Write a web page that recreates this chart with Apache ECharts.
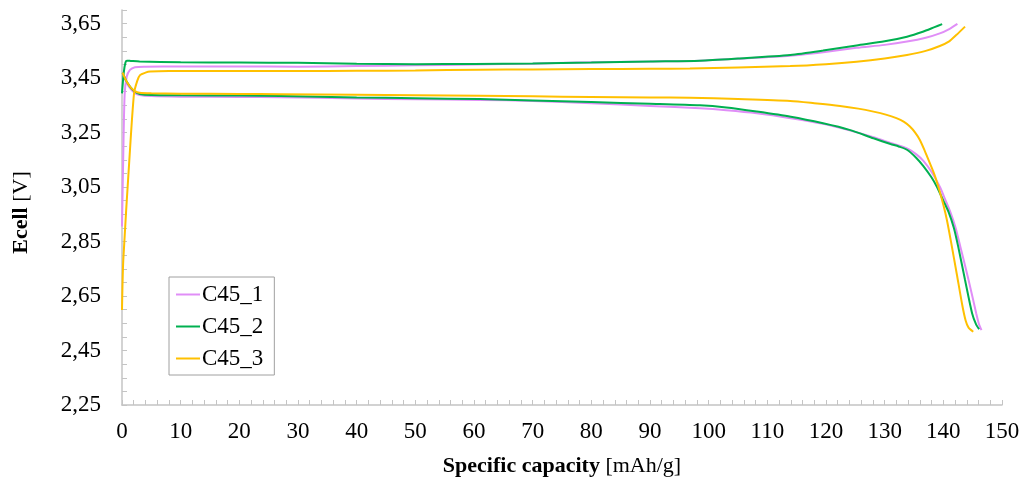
<!DOCTYPE html>
<html>
<head>
<meta charset="utf-8">
<title>Ecell vs specific capacity</title>
<script src="https://cdn.jsdelivr.net/npm/echarts@6/dist/echarts.min.js"></script>
<style>
  html, body { margin: 0; padding: 0; background: #ffffff; }
  #chart { width: 1035px; height: 484px; }
</style>
</head>
<body>
<div id="chart"></div>
<script>
// Cell names shown in the legend
const cellNames = ['C45_1', 'C45_2', 'C45_3'];

// Axis tick labels
const xLabelValues = [0, 10, 20, 30, 40, 50, 60, 70, 80, 90, 100, 110, 120, 130, 140, 150];
const xTickLabels = ['0', '10', '20', '30', '40', '50', '60', '70', '80', '90', '100', '110', '120', '130', '140', '150'];
const yLabelValues = [2.25, 2.45, 2.65, 2.85, 3.05, 3.25, 3.45, 3.65];
const yTickLabels = ['2,25', '2,45', '2,65', '2,85', '3,05', '3,25', '3,45', '3,65'];

// [specific capacity mAh/g, Ecell V] — charge branch, C45_1
const c45_1Charge = [
  [0, 2.905], [0.2, 3.15], [0.45, 3.39], [0.8, 3.455], [1.36, 3.480], [2.2, 3.490],
  [4, 3.492], [10, 3.493], [20, 3.493], [30, 3.492], [40, 3.494], [50, 3.497],
  [60, 3.500], [70, 3.503], [78, 3.507], [90, 3.511], [98.5, 3.514], [105, 3.521],
  [113.9, 3.532], [119.5, 3.545], [125.2, 3.561], [130, 3.572], [133.8, 3.584],
  [137, 3.598], [139.4, 3.614], [141, 3.630], [142.4, 3.649]
];
// discharge branch, C45_1
const c45_1Discharge = [
  [0.1, 3.47], [0.5, 3.445], [1, 3.425], [1.5, 3.41], [2.2, 3.395], [3, 3.388],
  [5, 3.384], [10, 3.382], [20, 3.381], [27, 3.380], [40, 3.375], [50, 3.372],
  [61, 3.370], [70, 3.366], [80, 3.358], [90, 3.348], [98.5, 3.339], [103, 3.332],
  [108.2, 3.321], [114, 3.303], [119.5, 3.282], [124, 3.258], [128.1, 3.233],
  [131, 3.212], [133.8, 3.192], [135.4, 3.170], [136.6, 3.146], [138, 3.105],
  [139.4, 3.051], [140.4, 3.000], [141.2, 2.958], [142.1, 2.900], [142.9, 2.831],
  [144.3, 2.709], [145.6, 2.587], [146.1, 2.545], [146.5, 2.525]
];

// charge branch, C45_2
const c45_2Charge = [
  [0, 3.394], [0.3, 3.47], [0.6, 3.508], [0.85, 3.514], [1.5, 3.513], [3, 3.511],
  [10, 3.508], [20, 3.507], [30, 3.506], [40, 3.503], [50, 3.501], [60, 3.502],
  [70, 3.504], [80, 3.507], [90, 3.511], [98.5, 3.514], [105, 3.522], [113.9, 3.535],
  [119.5, 3.551], [125.2, 3.570], [130, 3.585], [133.8, 3.602], [136.5, 3.620],
  [138.5, 3.637], [139.8, 3.648]
];
// discharge branch, C45_2
const c45_2Discharge = [
  [0.1, 3.47], [0.5, 3.45], [1, 3.43], [1.5, 3.415], [2.2, 3.400], [3, 3.392],
  [5, 3.388], [10, 3.387], [20, 3.386], [27, 3.384], [40, 3.379], [50, 3.376],
  [61, 3.373], [70, 3.368], [80, 3.362], [90, 3.356], [98.5, 3.350], [103, 3.342],
  [108.2, 3.327], [114, 3.308], [119.5, 3.284], [124, 3.260], [128.1, 3.229],
  [131, 3.208], [132.4, 3.199], [133.8, 3.187], [135.4, 3.157], [136.6, 3.127],
  [138, 3.085], [138.9, 3.051], [140.0, 3.000], [140.9, 2.958], [141.8, 2.900],
  [142.5, 2.835], [143.7, 2.709], [144.9, 2.587], [145.6, 2.545], [146.1, 2.528]
];

// charge branch, C45_3
const c45_3Charge = [
  [0, 2.599], [0.22, 2.782], [1.25, 3.149], [2.05, 3.394], [2.6, 3.44], [3.07, 3.461],
  [4, 3.470], [4.8, 3.474], [8, 3.476], [20, 3.476], [30, 3.476], [40, 3.477],
  [50, 3.478], [61, 3.481], [70, 3.482], [80, 3.483], [90, 3.484], [96.8, 3.485],
  [105, 3.489], [113.9, 3.494], [120, 3.501], [125.2, 3.510], [130, 3.522],
  [133.8, 3.535], [137, 3.550], [139.4, 3.568], [141, 3.585], [142.2, 3.608],
  [143.7, 3.639]
];
// discharge branch, C45_3
const c45_3Discharge = [
  [0.1, 3.47], [0.5, 3.45], [1, 3.43], [1.5, 3.415], [2.2, 3.402], [3, 3.396],
  [5, 3.394], [10, 3.393], [20, 3.392], [27, 3.391], [40, 3.389], [50, 3.387],
  [61, 3.385], [70, 3.383], [80, 3.381], [90, 3.379], [96.8, 3.378], [105, 3.373],
  [113.9, 3.366], [118, 3.358], [122.4, 3.348], [125.5, 3.338], [128.1, 3.327],
  [130.2, 3.316], [132.0, 3.303], [133.3, 3.289], [134.3, 3.272], [135.2, 3.250],
  [136.0, 3.223], [136.8, 3.185], [137.7, 3.138], [138.5, 3.095], [139.3, 3.040],
  [140.0, 2.985], [140.6, 2.930], [141.3, 2.850], [142.3, 2.730], [143.2, 2.620],
  [143.8, 2.560], [144.3, 2.534], [145.1, 2.519]
];

const chargeBranches = [c45_1Charge, c45_2Charge, c45_3Charge];
const dischargeBranches = [c45_1Discharge, c45_2Discharge, c45_3Discharge];
const lineColors = ['#e08ef7', '#00b050', '#ffc000'];

const serifFont = "'Liberation Serif', 'Times New Roman', 'DejaVu Serif', serif";

function pickLabel(values, labels) {
  return function (v) {
    const i = values.findIndex(t => Math.abs(t - v) < 1e-6);
    return i >= 0 ? labels[i] : '';
  };
}

// Each cell is one series: charge branch, a gap, then the discharge branch
const series = cellNames.map((name, i) => ({
  name: name,
  type: 'line',
  data: chargeBranches[i].concat([[null, null]], dischargeBranches[i]),
  showSymbol: false,
  symbol: 'none',
  connectNulls: false,
  smooth: 0.25,
  lineStyle: { color: lineColors[i], width: 2 },
  itemStyle: { color: lineColors[i] },
  emphasis: { disabled: true },
  animation: false
}));

const chart = echarts.init(document.getElementById('chart'), null, { renderer: 'canvas' });

chart.setOption({
  backgroundColor: '#ffffff',
  animation: false,
  grid: {
    left: 122, right: 33, top: 10, bottom: 79,
    containLabel: false,
    outerBoundsMode: 'none'
  },
  legend: {
    data: cellNames,
    orient: 'vertical',
    left: 169,
    top: 277,
    padding: [6, 11, 5, 7],
    itemGap: 9,
    itemWidth: 24,
    itemHeight: 2,
    icon: 'rect',
    backgroundColor: '#ffffff',
    borderColor: '#a0a0a0',
    borderWidth: 1,
    borderRadius: 0,
    selectedMode: false,
    textStyle: { fontFamily: serifFont, fontSize: 23, color: '#000000', lineHeight: 23, padding: [0, 0, 0, -3] }
  },
  xAxis: {
    type: 'value',
    min: 0,
    max: 150,
    interval: 2,
    name: '{b|Specific capacity} [mAh/g]',
    nameLocation: 'middle',
    nameGap: 50,
    nameTextStyle: {
      fontFamily: serifFont, fontSize: 22, color: '#000000',
      rich: { b: { fontFamily: serifFont, fontSize: 22, fontWeight: 'bold', color: '#000000' } }
    },
    axisLine: { show: true, lineStyle: { color: '#c4c4c4', width: 1.5 } },
    axisTick: { show: true, inside: true, length: 5, lineStyle: { color: '#c4c4c4', width: 1 } },
    splitLine: { show: false },
    axisLabel: {
      margin: 15,
      fontFamily: serifFont, fontSize: 23, color: '#000000',
      formatter: pickLabel(xLabelValues, xTickLabels)
    }
  },
  yAxis: {
    type: 'value',
    min: 2.25,
    max: 3.70,
    interval: 0.05,
    name: '{b|Ecell} [V]',
    nameLocation: 'middle',
    nameRotate: 90,
    nameGap: 90,
    nameTextStyle: {
      fontFamily: serifFont, fontSize: 22, color: '#000000',
      padding: [0, 10, 0, 0],
      rich: { b: { fontFamily: serifFont, fontSize: 22, fontWeight: 'bold', color: '#000000' } }
    },
    axisLine: { show: true, lineStyle: { color: '#c4c4c4', width: 1.5 } },
    axisTick: { show: true, inside: true, length: 5, lineStyle: { color: '#c4c4c4', width: 1 } },
    splitLine: { show: false },
    axisLabel: {
      margin: 21,
      fontFamily: serifFont, fontSize: 23, color: '#000000',
      formatter: pickLabel(yLabelValues, yTickLabels)
    }
  },
  series: series
});
</script>
</body>
</html>
